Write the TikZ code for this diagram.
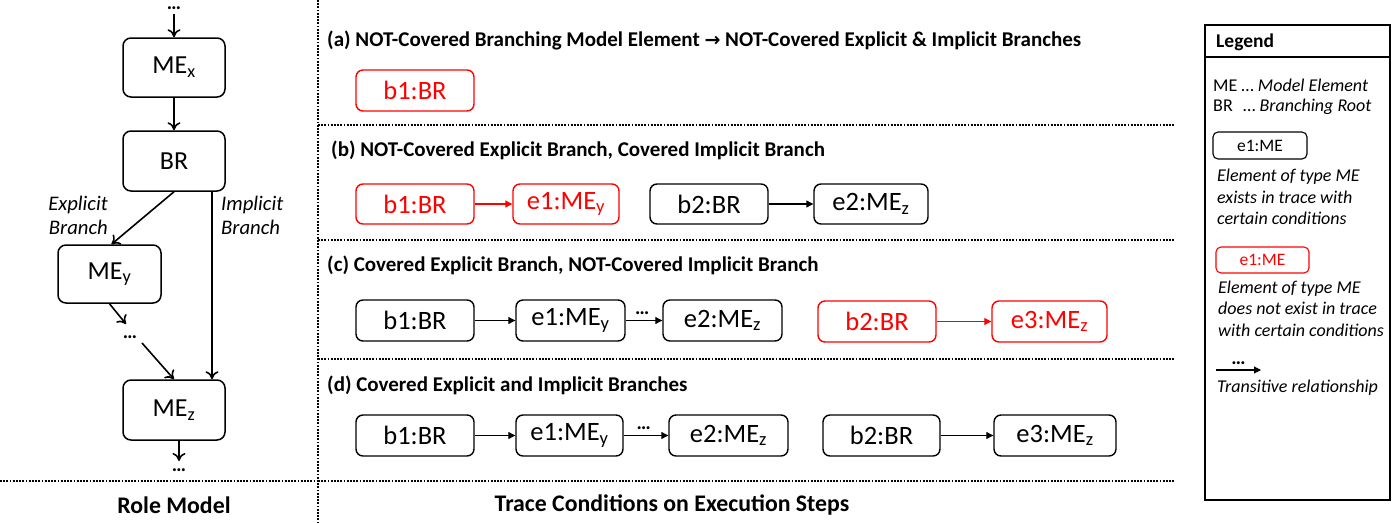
\documentclass[tikz,border=0pt]{standalone}
\usepackage{fontspec}
\setmainfont{Carlito}
\newfontfamily\arrowfont{DejaVu Sans}
\usetikzlibrary{arrows.meta}
\tikzset{
  lbox/.style={draw, line width=1.5pt, rounded corners=8pt, inner sep=0pt, font=\fontsize{26}{30}\selectfont},
  rbox/.style={draw, line width=1.4pt, rounded corners=7pt, inner sep=0pt, font=\fontsize{26.5}{30}\selectfont},
  redbox/.style={rbox, draw=red, text=red},
  larr/.style={line width=1.6pt, -{To[length=8pt,width=13pt,line width=1.6pt]}},
  rarr/.style={line width=1.1pt, -{Triangle[length=7pt,width=7pt]}},
  redarr/.style={rarr, draw=red},
  dotline/.style={line width=1.7pt, dash pattern=on 1.7pt off 1.5pt},
  ttl/.style={anchor=west, inner sep=0pt, font=\bfseries\fontsize{21}{25}\selectfont},
  big/.style={inner sep=0pt, font=\bfseries\fontsize{23.8}{28}\selectfont},
  dots/.style={inner sep=0pt, anchor=base, text height=3pt, text depth=0pt, font=\bfseries\fontsize{20}{20}\selectfont},
  lgd/.style={anchor=west, inner sep=0pt, align=left, font=\fontsize{18}{21.5}\selectfont},
  lgi/.style={lgd, font=\itshape\fontsize{18}{21.5}\selectfont},
}
\begin{document}
\begin{tikzpicture}[x=1pt,y=-1pt]
\useasboundingbox (0,0) rectangle (1400,522);

% ---------------- Left panel: Role Model ----------------
\node[dots] (topdots) at (174,9.5) {…};
\coordinate (t0) at (174,14);
\node[lbox, minimum width=102pt, minimum height=59pt] (mex) at (174,67.5) {ME\textsubscript{x}};
\node[lbox, minimum width=102pt, minimum height=60pt] (br) at (174,161) {BR};
\node[lbox, minimum width=103pt, minimum height=58pt] (mey) at (109.5,274) {ME\textsubscript{y}};
\node[lbox, minimum width=102pt, minimum height=60pt] (mez) at (174,410) {ME\textsubscript{z}};

\draw[larr] (t0) -- (mex.north);
\draw[larr] (mex.south) -- (br.north);
\draw[larr] (br.south) -- ([xshift=2pt]mey.north);
\draw[larr] ([xshift=38pt]br.south) -- ([xshift=38pt]mez.north);

\node[anchor=east, align=right, inner sep=0pt, font=\itshape\fontsize{20.7}{24}\selectfont] (expl) at (108,215) {Explicit\\Branch};
\node[anchor=west, align=left, inner sep=0pt, font=\itshape\fontsize{20.7}{24}\selectfont] (impl) at (221,215) {Implicit\\Branch};

\coordinate (m1) at (126,324);
\node[dots] (middots) at (130,338) {…};
\coordinate (m2) at (142,343);
\draw[larr] (mey.south) -- (m1);
\draw[larr] (m2) -- (mez.north);

\coordinate (b1) at (179,461);
\node[dots] (botdots) at (179,471) {…};
\draw[larr] ([xshift=5pt]mez.south) -- (b1);

\draw[dotline] (0,481) -- (318,481);
\draw[dotline] (318,0) -- (318,522);
\node[big] (rolemodel) at (174,505) {Role Model};

% ---------------- Right panel ----------------
\draw[dotline] (318,125) -- (1175,125);
\draw[dotline] (318,240) -- (1175,240);
\draw[dotline] (318,359) -- (1175,359);
\draw[dotline] (318,481) -- (1175,481);
\node[big] (tracecond) at (672,505) {Trace Conditions on Execution Steps};

% (a)
\node[ttl] (ta) at (327,40) {(a) NOT-Covered Branching Model Element {\arrowfont\bfseries\fontsize{19}{22}\selectfont →} NOT-Covered Explicit \& Implicit Branches};
\node[redbox, minimum width=118pt, minimum height=41pt] (a1) at (415,90.5) {b1:BR};

% (b)
\node[ttl] (tb) at (331,150) {(b) NOT-Covered Explicit Branch, Covered Implicit Branch};
\node[redbox, minimum width=118pt, minimum height=40pt] (bb1) at (415,204) {b1:BR};
\node[redbox, minimum width=106pt, minimum height=40pt] (be1) at (566,204) {e1:ME\textsubscript{y}};
\node[rbox, minimum width=118pt, minimum height=40pt] (bb2) at (709,204) {b2:BR};
\node[rbox, minimum width=114pt, minimum height=40pt] (be2) at (871,204) {e2:ME\textsubscript{z}};
\draw[redarr] (bb1) -- (be1);
\draw[rarr] (bb2) -- (be2);

% (c)
\node[ttl] (tc) at (327,265) {(c) Covered Explicit Branch, NOT-Covered Implicit Branch};
\node[rbox, minimum width=118pt, minimum height=41pt] (cb1) at (415,320.5) {b1:BR};
\node[rbox, minimum width=109pt, minimum height=41pt] (ce1) at (570.5,320.5) {e1:ME\textsubscript{y}};
\node[rbox, minimum width=119pt, minimum height=41pt] (ce2) at (722.5,320.5) {e2:ME\textsubscript{z}};
\node[redbox, minimum width=118pt, minimum height=41pt] (cb2) at (877,321.5) {b2:BR};
\node[redbox, minimum width=115pt, minimum height=41pt] (ce3) at (1049.5,321.5) {e3:ME\textsubscript{z}};
\draw[rarr] (cb1) -- (ce1);
\draw[rarr] (ce1) -- node[dots, pos=0.45, yshift=6pt] {…} (ce2);
\draw[redarr] (cb2) -- (ce3);

% (d)
\node[ttl] (td) at (327,385) {(d) Covered Explicit and Implicit Branches};
\node[rbox, minimum width=118pt, minimum height=41pt] (db1) at (415,435.5) {b1:BR};
\node[rbox, minimum width=107pt, minimum height=41pt] (de1) at (569.5,435.5) {e1:ME\textsubscript{y}};
\node[rbox, minimum width=119pt, minimum height=41pt] (de2) at (728.5,435.5) {e2:ME\textsubscript{z}};
\node[rbox, minimum width=117pt, minimum height=41pt] (db2) at (881.5,435.5) {b2:BR};
\node[rbox, minimum width=122pt, minimum height=41pt] (de3) at (1055,435.5) {e3:ME\textsubscript{z}};
\draw[rarr] (db1) -- (de1);
\draw[rarr] (de1) -- node[dots, pos=0.45, yshift=6pt] {…} (de2);
\draw[rarr] (db2) -- (de3);

% ---------------- Legend ----------------
\draw[line width=1.3pt] (1205,25) rectangle (1390,500);
\draw[line width=1.3pt] (1205,57) -- (1390,57);
\node[anchor=west, inner sep=0pt, font=\bfseries\fontsize{19.5}{22}\selectfont] (lgtitle) at (1216,42) {Legend};
\node[lgd] (lgme) at (1213,85) {ME … \textit{Model Element}};
\node[lgd] (lgbr) at (1213,107) {BR\hspace{0.35em} … \textit{Branching Root}};
\node[rbox, line width=1.1pt, rounded corners=5pt, minimum width=94pt, minimum height=27pt, font=\fontsize{17.5}{20}\selectfont] (lgblack) at (1260,145.5) {e1:ME};
\node[lgi] (lgtxt1) at (1217,197) {Element of type ME\\exists in trace with\\certain conditions};
\node[redbox, line width=1.1pt, rounded corners=5pt, minimum width=93pt, minimum height=26pt, font=\fontsize{17.5}{20}\selectfont] (lgred) at (1262.5,260) {e1:ME};
\node[lgi] (lgtxt2) at (1218,308.5) {Element of type ME\\does not exist in trace\\with certain conditions};
\coordinate (lga) at (1216,370);
\coordinate (lgb) at (1261,370);
\draw[rarr] (lga) -- node[dots, pos=0.5, yshift=6pt] {…} (lgb);
\node[lgi] (lgtxt3) at (1217,388) {Transitive relationship};
\end{tikzpicture}
\end{document}
